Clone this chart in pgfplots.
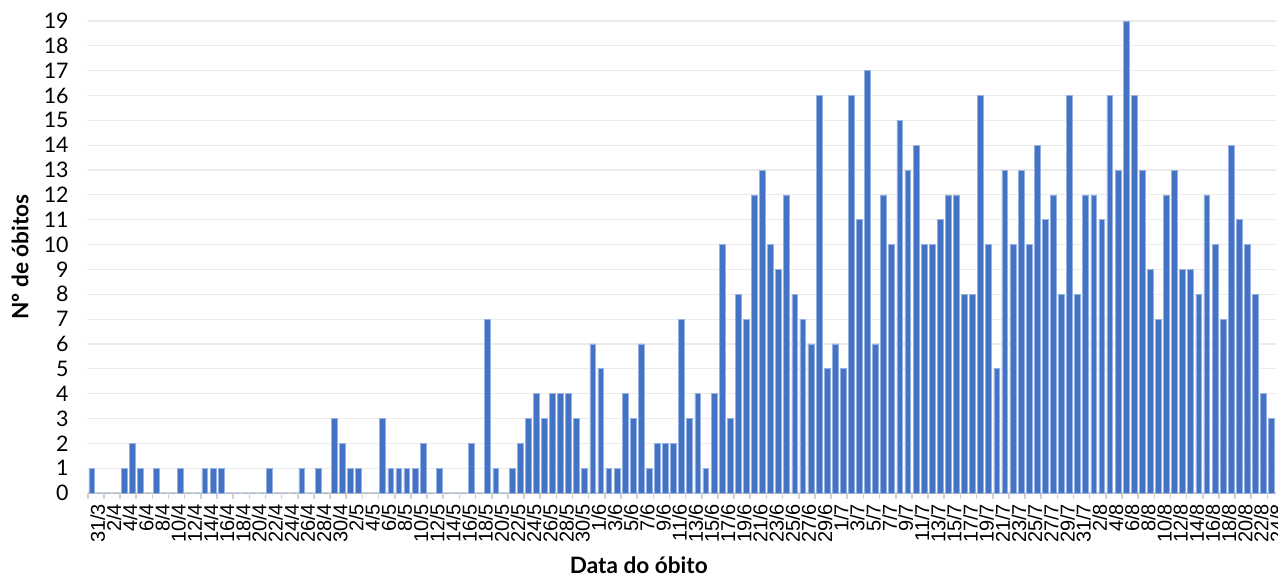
\documentclass[border=0pt]{standalone}
\usepackage{fontspec}
\setmainfont{Lato}
\newfontfamily\xfont{Liberation Sans}
\usepackage{pgfplots}
\usepackage{pgfplotstable}
\pgfplotsset{compat=1.18}
\definecolor{barblue}{RGB}{68,114,196}
\definecolor{baredge}{RGB}{150,178,224}
\definecolor{gridc}{RGB}{235,235,235}
\definecolor{axisc}{RGB}{210,210,210}
\pgfplotstableread{
x y
0 1
1 0
2 0
3 0
4 1
5 2
6 1
7 0
8 1
9 0
10 0
11 1
12 0
13 0
14 1
15 1
16 1
17 0
18 0
19 0
20 0
21 0
22 1
23 0
24 0
25 0
26 1
27 0
28 1
29 0
30 3
31 2
32 1
33 1
34 0
35 0
36 3
37 1
38 1
39 1
40 1
41 2
42 0
43 1
44 0
45 0
46 0
47 2
48 0
49 7
50 1
51 0
52 1
53 2
54 3
55 4
56 3
57 4
58 4
59 4
60 3
61 1
62 6
63 5
64 1
65 1
66 4
67 3
68 6
69 1
70 2
71 2
72 2
73 7
74 3
75 4
76 1
77 4
78 10
79 3
80 8
81 7
82 12
83 13
84 10
85 9
86 12
87 8
88 7
89 6
90 16
91 5
92 6
93 5
94 16
95 11
96 17
97 6
98 12
99 10
100 15
101 13
102 14
103 10
104 10
105 11
106 12
107 12
108 8
109 8
110 16
111 10
112 5
113 13
114 10
115 13
116 10
117 14
118 11
119 12
120 8
121 16
122 8
123 12
124 12
125 11
126 16
127 13
128 19
129 16
130 13
131 9
132 7
133 12
134 13
135 9
136 9
137 8
138 12
139 10
140 7
141 14
142 11
143 10
144 8
145 4
146 3
}\datatable
\begin{document}
\begin{tikzpicture}
\useasboundingbox (0,0) rectangle (639pt,289pt);
\begin{axis}[
  at={(43.85pt,42.5pt)}, anchor=south west,
  scale only axis, width=593.9pt, height=236pt,
  xmin=-0.5, xmax=146.5, ymin=0, ymax=19,
  axis lines*=left,
  y axis line style={draw=none},
  x axis line style={draw=axisc, line width=0.8pt},
  ybar, bar width=0.72,
  ytick={0,1,...,19},
  ymajorgrids, grid style={gridc, line width=0.6pt},
  ytick style={draw=none},
  xtick={0,2,...,146},
  xticklabels={31/3,2/4,4/4,6/4,8/4,10/4,12/4,14/4,16/4,18/4,20/4,22/4,24/4,26/4,28/4,30/4,2/5,4/5,6/5,8/5,10/5,12/5,14/5,16/5,18/5,20/5,22/5,24/5,26/5,28/5,30/5,1/6,3/6,5/6,7/6,9/6,11/6,13/6,15/6,17/6,19/6,21/6,23/6,25/6,27/6,29/6,1/7,3/7,5/7,7/7,9/7,11/7,13/7,15/7,17/7,19/7,21/7,23/7,25/7,27/7,29/7,31/7,2/8,4/8,6/8,8/8,10/8,12/8,14/8,16/8,18/8,20/8,22/8,24/8},
  xtick style={draw=none},
  extra x ticks={-0.5,1.5,...,146},
  extra x tick labels={},
  extra x tick style={tick align=outside, major tick length=3pt, xtick style={draw=axisc, line width=0.8pt}, grid=none},
  /pgf/number format/assume math mode=true,
  yticklabel style={font=\fontsize{10.7}{12}\selectfont, xshift=-6pt, text=black},
  xticklabel style={font=\xfont\fontsize{10}{10}\selectfont, rotate=90, anchor=east, yshift=-3pt, inner sep=1pt},
  xlabel={Data do óbito},
  ylabel={Nº de óbitos},
  xlabel style={font=\bfseries\fontsize{11.3}{12}\selectfont, at={(axis description cs:0.464,0)}, anchor=base, yshift=-40pt},
  ylabel style={font=\bfseries\fontsize{11.3}{12}\selectfont, at={(axis description cs:-0.057,0.5)}, anchor=center},
]
\addplot[fill=barblue, draw=baredge, line width=0.3pt] table[x=x,y=y] {\datatable};
\end{axis}
\end{tikzpicture}
\end{document}
